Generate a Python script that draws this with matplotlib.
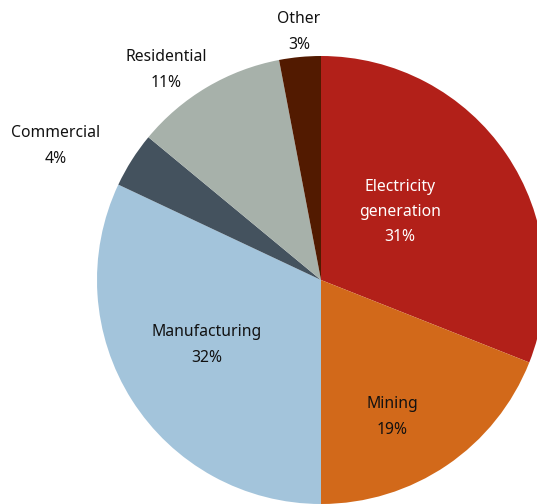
import matplotlib
matplotlib.use("Agg")
import matplotlib.pyplot as plt

categories = ["Electricity\ngeneration", "Mining", "Manufacturing", "Commercial", "Residential", "Other"]
shares = [31, 19, 32, 4, 11, 3]
colors = ["#B22019", "#D2691A", "#A3C4DB", "#44525E", "#A7B1AA", "#521A00"]

# label layout (pixel centers in the figure) and text colors
label_px = [(400, 212), (392, 417), (207, 345), (56, 146), (166, 70), (299, 32)]
label_colors = ["white", "#111111", "#111111", "#111111", "#111111", "#111111"]

W, H = 537, 504
fig = plt.figure(figsize=(W / 100, H / 100), dpi=100)
cx, cy, r = 321, 280, 224
ax = fig.add_axes([(cx - r) / W, (H - cy - r) / H, 2 * r / W, 2 * r / H])
ax.pie(shares, colors=colors, startangle=90, counterclock=False, radius=1,
       wedgeprops=dict(linewidth=0))
ax.set_xlim(-1, 1)
ax.set_ylim(-1, 1)
ax.set_aspect("equal")
ax.axis("off")

plt.rcParams['font.family'] = ['Noto Sans', 'DejaVu Sans']
for cat, val, (px, py), tc in zip(categories, shares, label_px, label_colors):
    fig.text(px / W, 1 - py / H, f"{cat}\n{val}%", ha="center", va="center",
             fontsize=11.3, color=tc, linespacing=1.78, family=['Noto Sans', 'DejaVu Sans'])

fig.savefig("out.png", dpi=100)
